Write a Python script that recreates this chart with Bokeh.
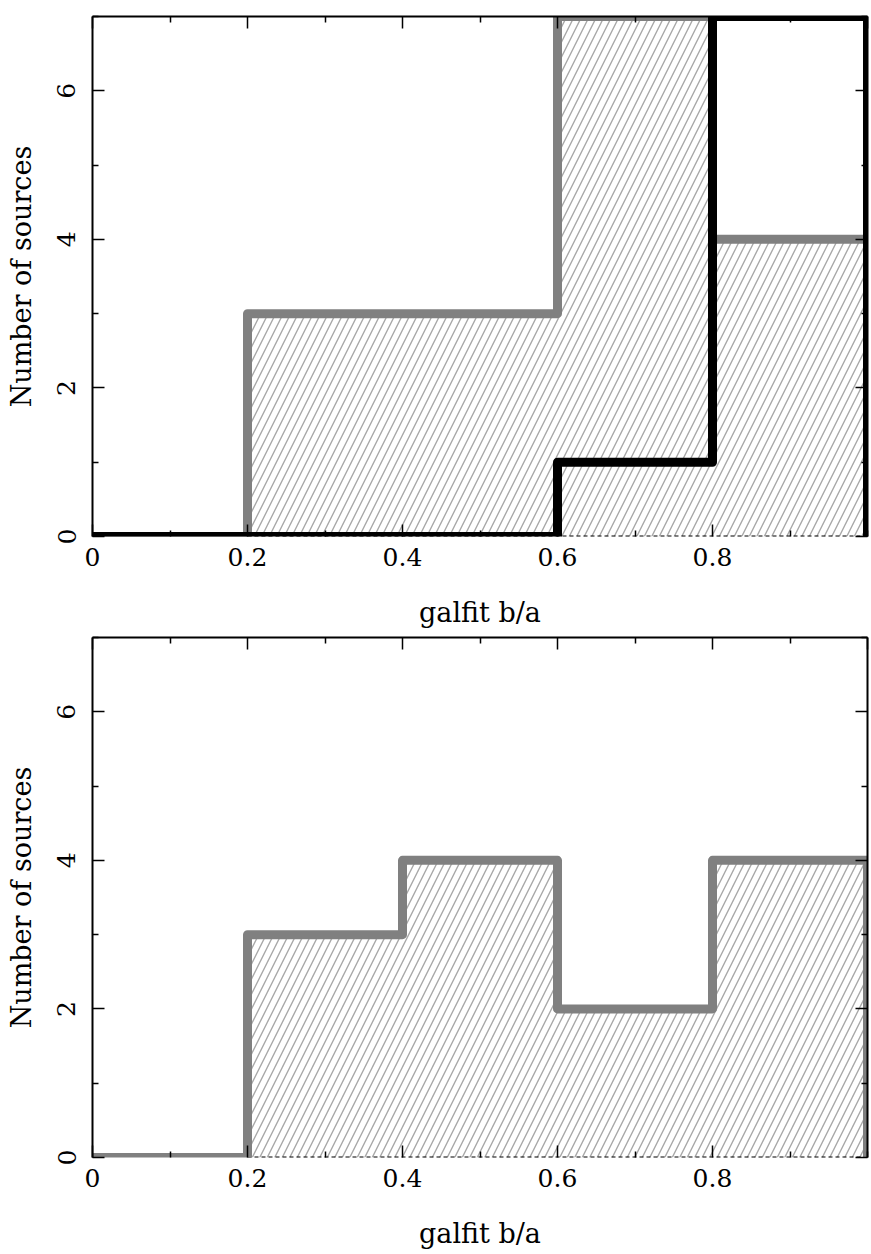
from bokeh.plotting import figure
from bokeh.layouts import column
from bokeh.models import Range1d, LinearAxis, FixedTicker, CustomLabelingPolicy
from bokeh.embed import file_html
from bokeh.resources import INLINE

# Histogram bin edges in galfit axis ratio b/a
edges = [0.0, 0.2, 0.4, 0.6, 0.8, 1.0]

# Upper panel: full sample (grey, hatched) and subsample (black)
upper_all = [0, 3, 3, 7, 4]
upper_sub = [0, 0, 0, 1, 7]

# Lower panel: full sample only
lower_all = [0, 3, 4, 2, 4]

x_major = [0.0, 0.2, 0.4, 0.6, 0.8]
x_minor = [0.1, 0.3, 0.5, 0.7, 0.9, 1.0]
x_labels = {0.0: "0", 0.2: "0.2", 0.4: "0.4", 0.6: "0.6", 0.8: "0.8"}
y_major = [0, 2, 4, 6]
y_minor = [1, 3, 5, 7]

FONT = "DejaVu Serif"
GREY = "#808080"


def step_path(edges, counts):
    xs, ys = [edges[0]], [0]
    for i, c in enumerate(counts):
        xs += [edges[i], edges[i + 1]]
        ys += [c, c]
    xs.append(edges[-1])
    ys.append(0)
    return xs, ys


def style_axis(ax, ticks, minor, show_labels):
    ax.ticker = FixedTicker(ticks=ticks, minor_ticks=minor)
    ax.axis_line_color = "black"
    ax.axis_line_width = 2
    ax.major_tick_in = 12
    ax.major_tick_out = 0
    ax.minor_tick_in = 6
    ax.minor_tick_out = 0
    ax.major_tick_line_width = 1.5
    ax.minor_tick_line_width = 1.5
    ax.major_tick_line_color = "black"
    ax.minor_tick_line_color = "black"
    if show_labels:
        ax.major_label_text_font = FONT
        ax.major_label_text_font_size = "25px"
        ax.major_label_text_color = "black"
        ax.axis_label_text_font = FONT
        ax.axis_label_text_font_size = "27px"
        ax.axis_label_text_font_style = "normal"
        ax.axis_label_text_color = "black"
    else:
        # tick marks only, no labels on the top and right frame edges
        ax.major_label_policy = CustomLabelingPolicy(
            code="for (const i of indices) { if (false) yield i }")
        ax.major_label_text_font_size = "0px"
        ax.major_label_standoff = 0
        ax.axis_label_standoff = 0


def make_panel(height, border_top, border_bottom, grey_counts, black_counts=None):
    p = figure(width=871, height=height,
               x_range=Range1d(0, 1), y_range=Range1d(0, 7),
               output_backend="svg", toolbar_location=None,
               min_border_left=92, min_border_right=4,
               min_border_top=border_top, min_border_bottom=border_bottom,
               x_axis_label="galfit b/a", y_axis_label="Number of sources")
    p.grid.visible = False
    p.outline_line_color = None
    p.background_fill_color = "white"
    p.border_fill_color = "white"

    xa = p.xaxis[0]
    style_axis(xa, x_major, x_minor, True)
    xa.axis_line_color = None
    xa.major_label_overrides = x_labels
    xa.major_label_standoff = 11
    xa.axis_label_standoff = 28

    ya = p.yaxis[0]
    style_axis(ya, y_major, y_minor, True)
    ya.major_label_orientation = "vertical"
    ya.major_label_standoff = 17
    ya.axis_label_standoff = 18

    top = LinearAxis()
    style_axis(top, x_major + [1.0], x_minor[:-1], False)
    p.add_layout(top, "above")
    right = LinearAxis()
    style_axis(right, y_major, y_minor, False)
    p.add_layout(right, "right")

    # hatched area under the grey histogram
    gx, gy = step_path(edges, grey_counts)
    p.patch(gx, gy, fill_color=None, line_color=None,
            hatch_pattern="/", hatch_color="#a8a8a8",
            hatch_weight=1.4, hatch_scale=15)

    # dashed base of the hatched area
    first = next(i for i, c in enumerate(grey_counts) if c > 0)
    p.line([edges[first], edges[-1]], [0, 0], line_color="black",
           line_width=2, line_dash="4 3")

    p.line(gx, gy, line_color=GREY, line_width=9,
           line_join="round", line_cap="round")

    if black_counts is not None:
        bx, by = step_path(edges, black_counts)
        p.line(bx, by, line_color="black", line_width=9,
               line_join="round", line_cap="round")
    return p


p_top = make_panel(632, 16, 96, upper_all, upper_sub)
p_bot = make_panel(622, 5, 97, lower_all)

layout = column(p_top, p_bot, spacing=0)
open("out.html", "w").write(file_html(layout, INLINE))
